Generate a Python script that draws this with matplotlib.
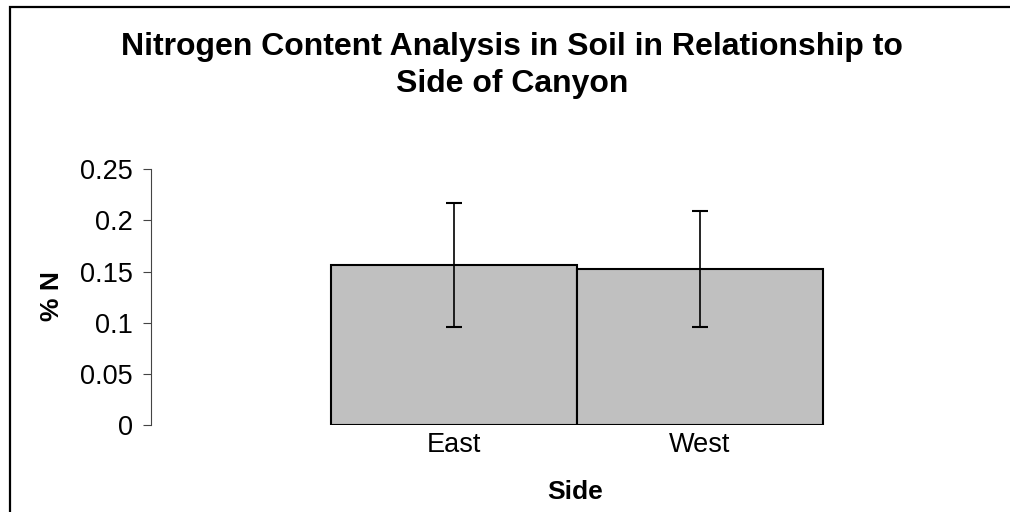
import matplotlib
matplotlib.use('Agg')
import matplotlib.pyplot as plt
from matplotlib.patches import Rectangle

plt.rcParams['font.family'] = ['Liberation Sans', 'DejaVu Sans']

# data
sides = ['East', 'West']
pct_n = [0.1564, 0.1525]
err = [0.0603, 0.0567]
y_ticks = [0, 0.05, 0.1, 0.15, 0.2, 0.25]
y_labels = ['0', '0.05', '0.1', '0.15', '0.2', '0.25']

fig = plt.figure(figsize=(10.1, 5.12), dpi=100)
ax = fig.add_axes([151 / 1010, 1 - 425 / 512, 849 / 1010, 255.7 / 512])

xs = list(range(len(sides)))
ax.bar(xs, pct_n, width=1.0, color='#c0c0c0', edgecolor='black', linewidth=1.5)
ax.errorbar(xs, pct_n, yerr=err, fmt='none', ecolor='black', elinewidth=1.2,
            capsize=5.5, capthick=1.5)

ax.set_xlim(-1.2317, 2.2195)
ax.set_ylim(0, 0.25)
ax.set_yticks(y_ticks)
ax.set_yticklabels(y_labels)
ax.set_xticks(xs)
ax.set_xticklabels(sides)
ax.tick_params(axis='y', direction='out', length=6, width=0.8, color='#444444',
               labelsize=19.5, pad=7)
ax.tick_params(axis='x', length=0, labelsize=19.5, pad=5)

for s in ['top', 'right', 'bottom']:
    ax.spines[s].set_visible(False)
ax.spines['left'].set_color('#444444')
ax.spines['left'].set_linewidth(0.8)

fig.text(52 / 1010, 1 - 296 / 512, '% N', rotation=90, ha='center', va='center',
         fontsize=19, fontweight='bold')
fig.text(575 / 1010, 1 - 492 / 512, 'Side', ha='center', va='center',
         fontsize=19, fontweight='bold')
fig.text(512 / 1010, 1 - 32 / 512,
         'Nitrogen Content Analysis in Soil in Relationship to\nSide of Canyon',
         ha='center', va='top', fontsize=23, fontweight='bold', linespacing=1.3)

# chart border (runs off the right and bottom edges)
fig.patches.append(Rectangle((10 / 1010, -0.1), 1.2, 1.1 - 7 / 512,
                             transform=fig.transFigure, fill=False,
                             edgecolor='black', linewidth=1.6))

fig.savefig('out.png', dpi=100)
